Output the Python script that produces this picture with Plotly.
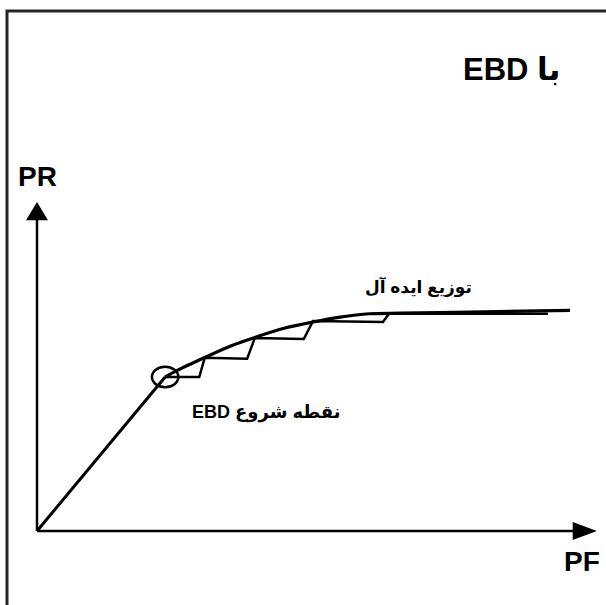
import plotly.graph_objects as go

# ideal distribution curve (straight part up to the EBD start, then the arc)
IDEAL_PF = [0, 1.16, 2.33, 2.55, 3.04, 3.51, 3.96, 4.51, 5.02, 5.51, 6.05, 6.6, 7.87, 9.69]
IDEAL_PR = [0, 1.4, 2.8, 2.92, 3.15, 3.36, 3.52, 3.69, 3.8, 3.89, 3.95, 3.96, 3.98, 4.01]

# stepped distribution after EBD starts
STEP_PF = [2.33, 2.95, 3.05, 3.82, 3.96, 4.85, 5.02, 6.29, 6.4, 9.29]
STEP_PR = [2.8, 2.8, 3.15, 3.13, 3.51, 3.49, 3.82, 3.8, 3.95, 3.95]

EBD_START = (2.33, 2.8)

X_TIP = 10.18
Y_TIP = 5.98

FONT = "Liberation Sans, Arial, DejaVu Sans, sans-serif"
RLE, PDF = "\u202b", "\u202c"

fig = go.Figure()
fig.add_trace( go.Scatter( x=IDEAL_PF[:3], y=IDEAL_PR[:3], mode="lines",
                           line={ "color": "black", "width": 3 }, hoverinfo="skip" ) )
fig.add_trace( go.Scatter( x=IDEAL_PF[2:], y=IDEAL_PR[2:], mode="lines",
                           line={ "color": "black", "width": 3.2, "shape": "spline", "smoothing": 0.8 },
                           hoverinfo="skip" ) )
fig.add_trace( go.Scatter( x=STEP_PF, y=STEP_PR, mode="lines",
                           line={ "color": "black", "width": 2.5 }, hoverinfo="skip" ) )

# axes with arrow heads
fig.add_shape( type="line", x0=0, y0=0, x1=X_TIP - 0.3, y1=0, line={ "color": "black", "width": 2.5 } )
fig.add_shape( type="line", x0=0, y0=0, x1=0, y1=Y_TIP - 0.3, line={ "color": "black", "width": 2.5 } )
fig.add_shape( type="path", path=f"M {X_TIP},0 L {X_TIP-0.44},0.165 L {X_TIP-0.44},-0.165 Z",
               fillcolor="black", opacity=1, line={ "width": 0 } )
fig.add_shape( type="path", path=f"M 0,{Y_TIP} L -0.2,{Y_TIP-0.33} L 0.2,{Y_TIP-0.33} Z",
               fillcolor="black", opacity=1, line={ "width": 0 } )

# circle around the EBD start point
cx, cy = EBD_START
fig.add_shape( type="circle", x0=cx - 0.24, x1=cx + 0.24, y0=cy - 0.185, y1=cy + 0.185,
               fillcolor="rgba(0,0,0,0)", opacity=1, line={ "color": "black", "width": 2.5 } )

# outer frame
fig.add_shape( type="rect", xref="paper", yref="paper", x0=7/606, x1=1.05, y0=-0.05, y1=1 - 11/605,
               fillcolor="rgba(0,0,0,0)", opacity=1, line={ "color": "#262626", "width": 3 } )

def _label( text, x, y, size ):
    fig.add_annotation( x=x, y=y, text=f"<b>{text}</b>", showarrow=False,
                        font={ "family": FONT, "size": size, "color": "black" } )

_label( RLE + "با EBD" + PDF, 8.62, 8.4, 31 )
_label( "PR", 0, 6.44, 28 )
_label( "PF", 9.91, -0.56, 28 )
_label( RLE + "نقطه شروع EBD" + PDF, 4.18, 2.16, 18 )
_label( "توزیع ایده آل", 6.93, 4.44, 17 )

fig.update_xaxes( range=[-37/55, 569/55], visible=False )
fig.update_yaxes( range=[-74/55, 531/55], visible=False )
fig.update_layout( width=606, height=605, showlegend=False,
                   paper_bgcolor="white", plot_bgcolor="white",
                   margin={ "r": 0, "t": 0, "l": 0, "b": 0 } )

fig.write_html( "out.html", config={ "displayModeBar": False },
                post_script="document.body.style.margin='0';" )
